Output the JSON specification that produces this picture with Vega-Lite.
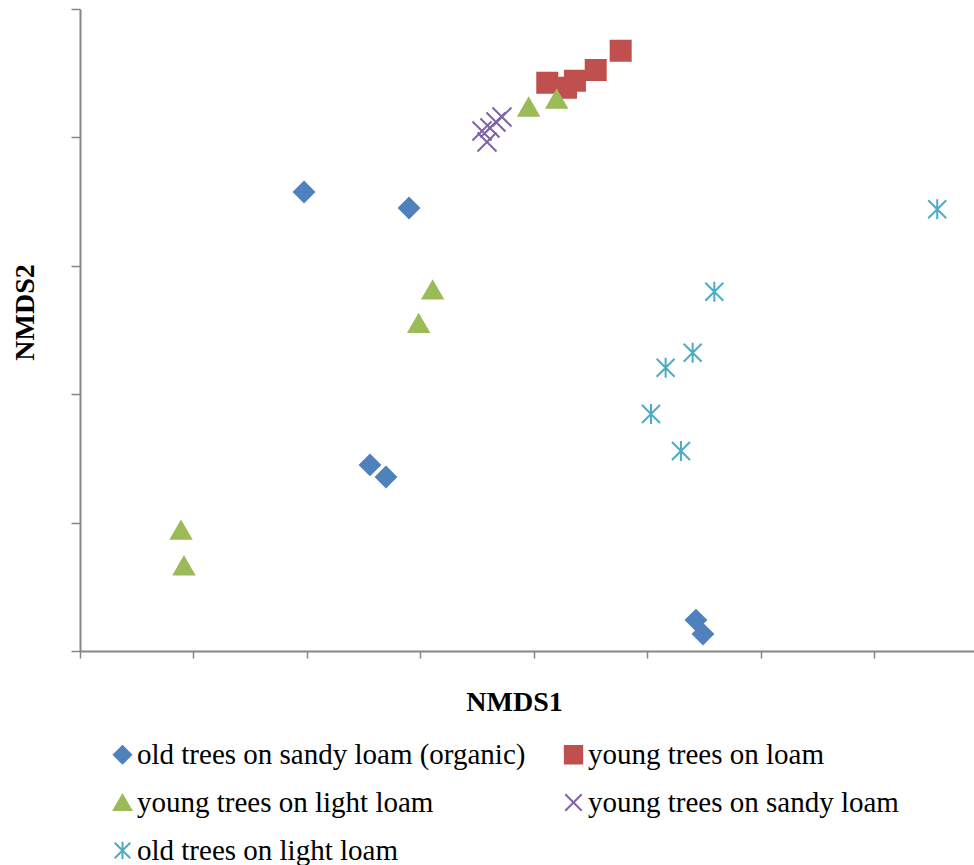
{
  "$schema": "https://vega.github.io/schema/vega-lite/v6.json",
  "width": 894,
  "height": 642,
  "autosize": {"type": "none"},
  "padding": {"left": 80, "top": 9, "right": 0, "bottom": 214},
  "background": "white",
  "config": {
    "view": {"stroke": null},
    "font": "Liberation Serif",
    "axis": {"grid": false, "labels": false, "domainColor": "#868686", "domainWidth": 2, "tickColor": "#868686", "tickWidth": 1.5, "titleFont": "Liberation Serif", "titleFontWeight": "bold", "titleFontSize": 28, "titleColor": "black"}
  },
  "layer": [
    {
      "mark": {"type": "rule", "color": "#868686", "strokeWidth": 2},
      "encoding": {"y": {"datum": 5, "type": "quantitative"}}
    },
    {
      "data": {"values": [
        {"group": "old trees on sandy loam (organic)", "NMDS1": 1.974, "NMDS2": 3.575},
        {"group": "old trees on sandy loam (organic)", "NMDS1": 2.899, "NMDS2": 3.450},
        {"group": "old trees on sandy loam (organic)", "NMDS1": 2.555, "NMDS2": 1.449},
        {"group": "old trees on sandy loam (organic)", "NMDS1": 2.696, "NMDS2": 1.355},
        {"group": "old trees on sandy loam (organic)", "NMDS1": 5.427, "NMDS2": 0.241},
        {"group": "old trees on sandy loam (organic)", "NMDS1": 5.489, "NMDS2": 0.132},
        {"group": "young trees on loam", "NMDS1": 4.117, "NMDS2": 4.426},
        {"group": "young trees on loam", "NMDS1": 4.282, "NMDS2": 4.387},
        {"group": "young trees on loam", "NMDS1": 4.361, "NMDS2": 4.442},
        {"group": "young trees on loam", "NMDS1": 4.544, "NMDS2": 4.525},
        {"group": "young trees on loam", "NMDS1": 4.764, "NMDS2": 4.675},
        {"group": "young trees on light loam", "NMDS1": 3.953, "NMDS2": 4.237},
        {"group": "young trees on light loam", "NMDS1": 4.200, "NMDS2": 4.299},
        {"group": "young trees on light loam", "NMDS1": 3.107, "NMDS2": 2.812},
        {"group": "young trees on light loam", "NMDS1": 2.984, "NMDS2": 2.552},
        {"group": "young trees on light loam", "NMDS1": 0.890, "NMDS2": 0.942},
        {"group": "young trees on light loam", "NMDS1": 0.916, "NMDS2": 0.664},
        {"group": "young trees on sandy loam", "NMDS1": 3.542, "NMDS2": 4.050},
        {"group": "young trees on sandy loam", "NMDS1": 3.586, "NMDS2": 3.964},
        {"group": "young trees on sandy loam", "NMDS1": 3.612, "NMDS2": 4.073},
        {"group": "young trees on sandy loam", "NMDS1": 3.665, "NMDS2": 4.120},
        {"group": "young trees on sandy loam", "NMDS1": 3.718, "NMDS2": 4.159},
        {"group": "old trees on light loam", "NMDS1": 7.553, "NMDS2": 3.440},
        {"group": "old trees on light loam", "NMDS1": 5.589, "NMDS2": 2.798},
        {"group": "old trees on light loam", "NMDS1": 5.398, "NMDS2": 2.323},
        {"group": "old trees on light loam", "NMDS1": 5.160, "NMDS2": 2.206},
        {"group": "old trees on light loam", "NMDS1": 5.031, "NMDS2": 1.846},
        {"group": "old trees on light loam", "NMDS1": 5.295, "NMDS2": 1.558}
      ]},
      "mark": {"type": "point", "filled": true, "size": 400, "strokeWidth": 2, "opacity": 1},
      "encoding": {
        "x": {"field": "NMDS1", "type": "quantitative", "scale": {"domain": [0, 7.877], "nice": false, "zero": false},
          "axis": {"values": [0, 1, 2, 3, 4, 5, 6, 7], "tickSize": 7, "title": "NMDS1", "titleX": 434, "titleY": 59, "titleBaseline": "alphabetic", "titleAlign": "center"}},
        "y": {"field": "NMDS2", "type": "quantitative", "scale": {"domain": [0, 5], "nice": false, "zero": false},
          "axis": {"values": [0, 1, 2, 3, 4, 5], "tickSize": 9, "title": "NMDS2", "titleX": -55, "titleY": 303, "titleAngle": 270, "titleBaseline": "middle", "titleAlign": "center"}},
        "shape": {"field": "group", "type": "nominal",
          "scale": {"domain": ["old trees on sandy loam (organic)", "young trees on light loam", "old trees on light loam", "young trees on loam", "young trees on sandy loam"],
                    "range": ["diamond", "triangle-up", "M-0.9,-0.9L0.9,0.9M-0.9,0.9L0.9,-0.9M0,-1L0,1", "square", "M-0.95,-0.95L0.95,0.95M-0.95,0.95L0.95,-0.95"]},
          "legend": {"orient": "none", "legendX": 28, "legendY": 731, "columns": 2, "title": null, "labelFont": "Liberation Serif", "labelFontSize": 29, "labelColor": "black", "symbolSize": 300, "symbolStrokeWidth": 2, "labelOffset": 0, "rowPadding": 18, "columnPadding": 33, "padding": 0, "labelLimit": 600}},
        "fill": {"field": "group", "type": "nominal",
          "scale": {"domain": ["old trees on sandy loam (organic)", "young trees on light loam", "old trees on light loam", "young trees on loam", "young trees on sandy loam"],
                    "range": ["#4F81BD", "#9BBB59", "#4BACC6", "#C0504D", "#8064A2"]}},
        "stroke": {"field": "group", "type": "nominal",
          "scale": {"domain": ["old trees on sandy loam (organic)", "young trees on light loam", "old trees on light loam", "young trees on loam", "young trees on sandy loam"],
                    "range": ["#4F81BD", "#9BBB59", "#4BACC6", "#C0504D", "#8064A2"]}}
      }
    }
  ]
}
